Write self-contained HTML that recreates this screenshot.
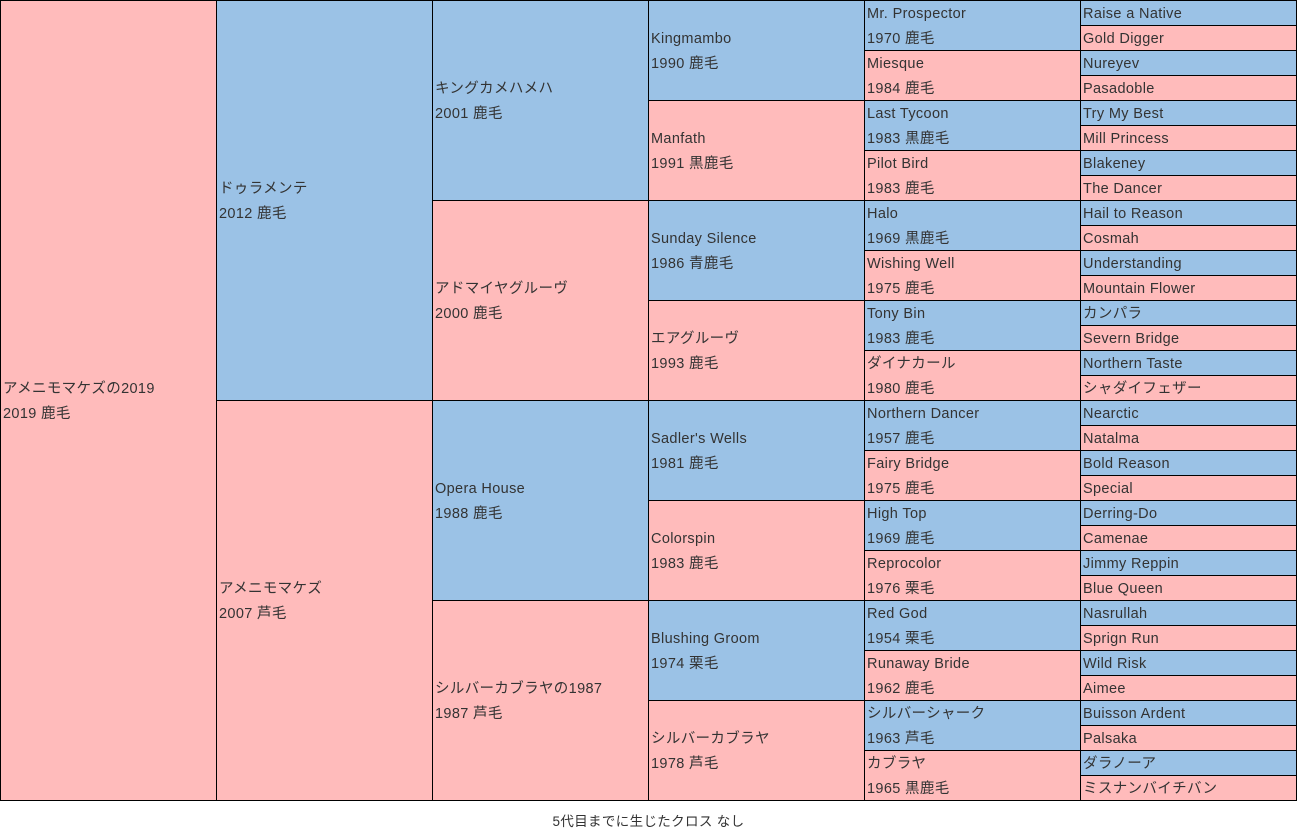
<!DOCTYPE html>
<html><head><meta charset="utf-8"><style>
body{margin:0;width:1297px;height:840px;background:#fff;position:relative;overflow:hidden;font-family:"Liberation Sans","Noto Sans CJK JP",sans-serif;font-size:14.5px;letter-spacing:0.35px;color:#333}
.c{position:absolute;box-sizing:border-box;border:1px solid #000;display:flex;flex-direction:column;justify-content:center;padding-left:2px;padding-top:2px;line-height:25px;white-space:nowrap;overflow:hidden}
.b{background:#9BC2E6}.p{background:#FFBBBB}
#f{position:absolute;top:810px;left:0;width:1297px;text-align:center;font-size:13.5px;line-height:24px}
</style></head><body>
<div id="root"></div>
<div id="f">5代目までに生じたクロス なし</div>
<script>
var g=[
[["アメニモマケズの2019","2019 鹿毛"]],
[["ドゥラメンテ","2012 鹿毛"],["アメニモマケズ","2007 芦毛"]],
[["キングカメハメハ","2001 鹿毛"],["アドマイヤグルーヴ","2000 鹿毛"],["Opera House","1988 鹿毛"],["シルバーカブラヤの1987","1987 芦毛"]],
[["Kingmambo","1990 鹿毛"],["Manfath","1991 黒鹿毛"],["Sunday Silence","1986 青鹿毛"],["エアグルーヴ","1993 鹿毛"],["Sadler's Wells","1981 鹿毛"],["Colorspin","1983 鹿毛"],["Blushing Groom","1974 栗毛"],["シルバーカブラヤ","1978 芦毛"]],
[["Mr. Prospector","1970 鹿毛"],["Miesque","1984 鹿毛"],["Last Tycoon","1983 黒鹿毛"],["Pilot Bird","1983 鹿毛"],["Halo","1969 黒鹿毛"],["Wishing Well","1975 鹿毛"],["Tony Bin","1983 鹿毛"],["ダイナカール","1980 鹿毛"],["Northern Dancer","1957 鹿毛"],["Fairy Bridge","1975 鹿毛"],["High Top","1969 鹿毛"],["Reprocolor","1976 栗毛"],["Red God","1954 栗毛"],["Runaway Bride","1962 鹿毛"],["シルバーシャーク","1963 芦毛"],["カブラヤ","1965 黒鹿毛"]],
[["Raise a Native"],["Gold Digger"],["Nureyev"],["Pasadoble"],["Try My Best"],["Mill Princess"],["Blakeney"],["The Dancer"],["Hail to Reason"],["Cosmah"],["Understanding"],["Mountain Flower"],["カンパラ"],["Severn Bridge"],["Northern Taste"],["シャダイフェザー"],["Nearctic"],["Natalma"],["Bold Reason"],["Special"],["Derring-Do"],["Camenae"],["Jimmy Reppin"],["Blue Queen"],["Nasrullah"],["Sprign Run"],["Wild Risk"],["Aimee"],["Buisson Ardent"],["Palsaka"],["ダラノーア"],["ミスナンバイチバン"]]];
var xs=[0,216,432,648,864,1080,1297],h="";
g.forEach(function(col,i){var n=col.length,hh=800/n;col.forEach(function(c,j){
var cls=i==0?"p":(j%2?"p":"b");var w=(i==5?1297:xs[i+1]+1)-xs[i];
h+='<div class="c '+cls+'" style="left:'+xs[i]+'px;top:'+(j*hh)+'px;width:'+w+'px;height:'+(hh+1)+'px">'+c.map(function(t){return '<div>'+t+'</div>'}).join('')+'</div>';});});
document.getElementById('root').innerHTML=h;
</script>
</body></html>
